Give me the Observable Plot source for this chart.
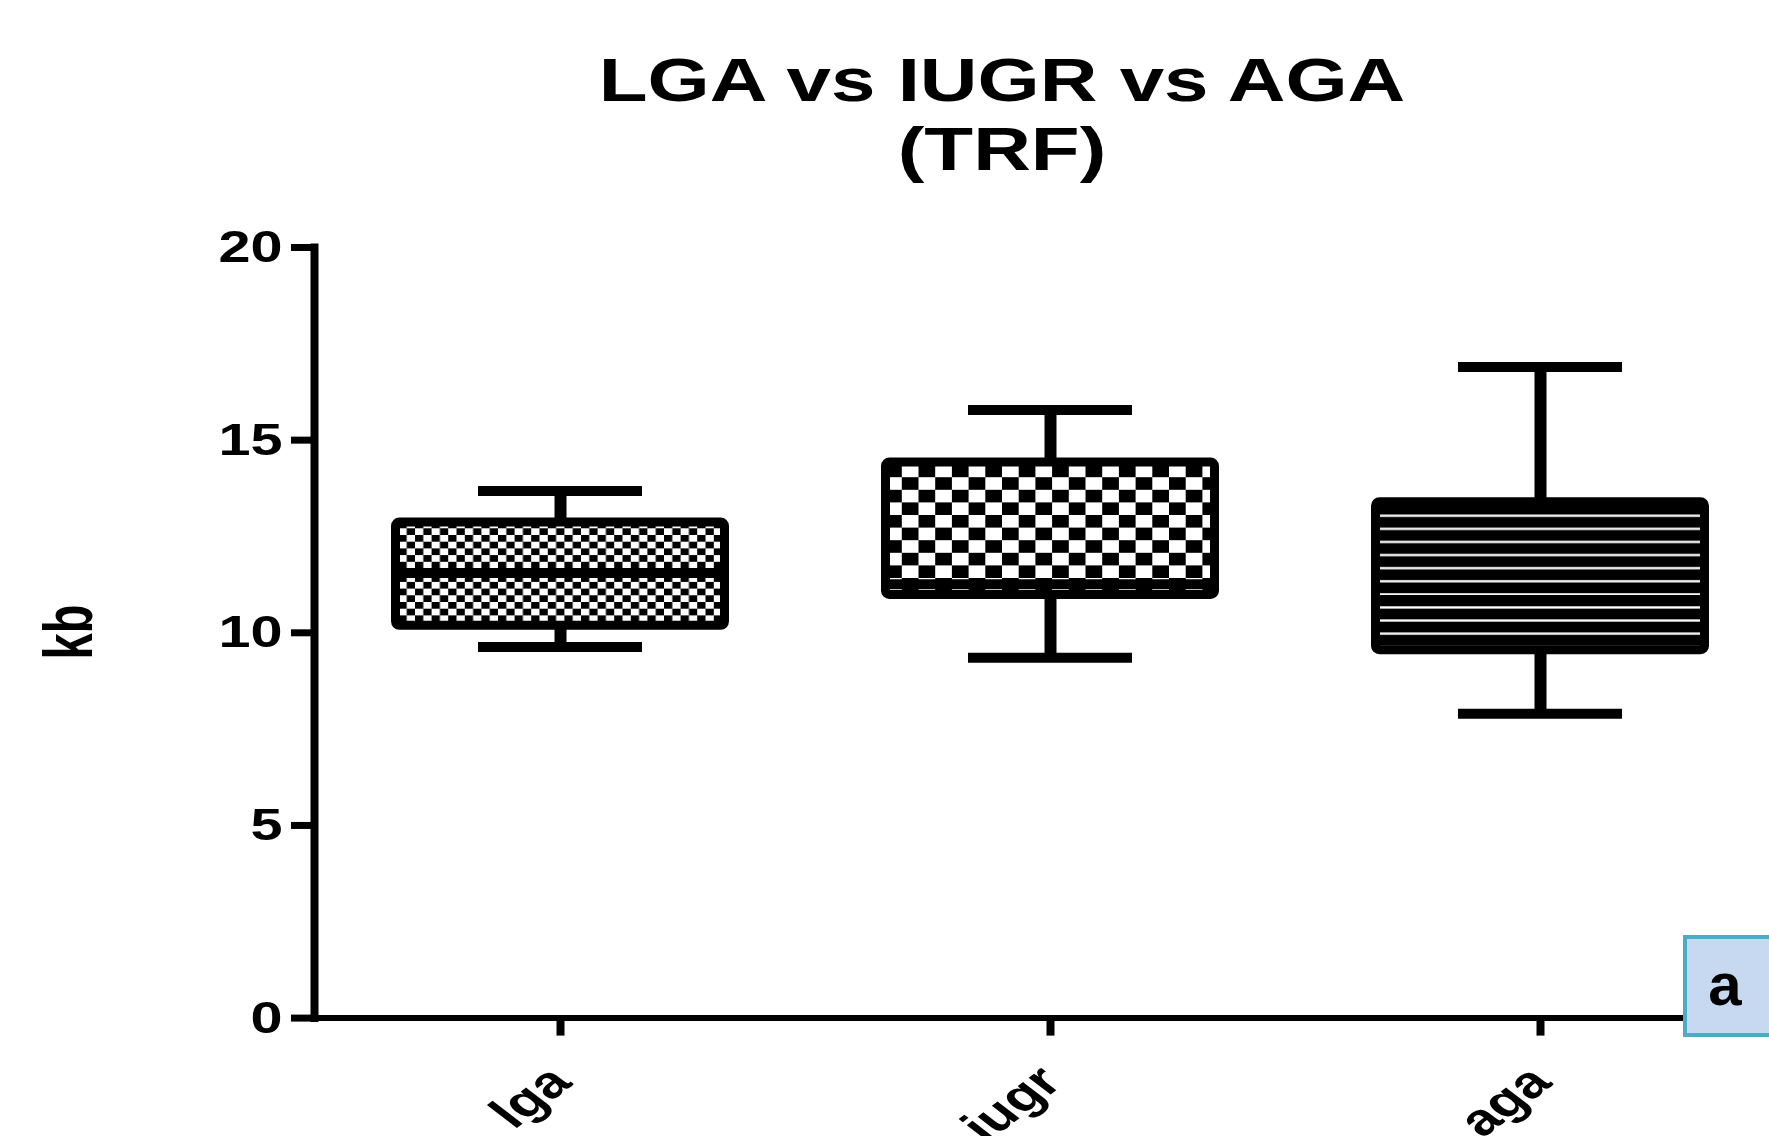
<!DOCTYPE html>
<html>
<head>
<meta charset="utf-8">
<script src="https://cdn.jsdelivr.net/npm/d3@7"></script>
<script src="https://cdn.jsdelivr.net/npm/@observablehq/plot@0.6"></script>
<style>
  html, body { margin: 0; padding: 0; background: #fff; overflow: hidden; width: 1769px; height: 1136px; }
  #title { position: absolute; top: 0; left: 1002px; transform: translateX(-50%) scaleX(1.31);
    font-family: "Liberation Sans", Arial, sans-serif; font-weight: bold; font-size: 61px; line-height: 69px;
    padding-top: 46px; text-align: center; white-space: nowrap; color: #000; }
  #chart { position: absolute; top: 200px; left: 0; }
  #ylabel { position: absolute; left: 68px; top: 632px; transform: translate(-50%, -50%) rotate(-90deg) scale(1, 1.45);
    font-family: "Liberation Sans", Arial, sans-serif; font-weight: bold; font-size: 47px; line-height: 1; white-space: nowrap; color: #000; }
  #panel { position: absolute; left: 1683px; top: 935px; width: 110px; height: 94px; background: #C6D9F0; border: 4px solid #4BACC6; }
  #panel span { position: absolute; left: 0; width: 76px; top: 16px; text-align: center;
    font-family: "Liberation Sans", Arial, sans-serif; font-weight: bold; font-size: 60px; line-height: 60px; color: #000; }
</style>
</head>
<body>
<div id="title"></div>
<div id="chart"></div>
<div id="ylabel"></div>
<div id="panel"><span></span></div>
<script>
// ---- data ----
const categories = ["lga", "iugr", "aga"];
const mins    = [9.63, 9.35, 7.9];
const q1s     = [10.18, 10.98, 9.55];
const medians = [11.55, 11.26, 10.85];
const q3s     = [12.86, 14.42, 13.39];
const maxs    = [13.68, 15.78, 16.9];
const yTicks  = [0, 5, 10, 15, 20];
const titleLines = ["LGA vs IUGR vs AGA", "(TRF)"];
const yLabel = "kb";
const panelLetter = "a";

// ---- styles ----
const patternFor = {lga: "smallCheck", iugr: "bigCheck", aga: "hLines"};

document.getElementById("title").innerHTML = titleLines.join("<br>");
document.getElementById("ylabel").textContent = yLabel;
document.querySelector("#panel span").textContent = panelLetter;

const data = categories.map((cat, i) => ({
  cat, min: mins[i], q1: q1s[i], median: medians[i], q3: q3s[i], max: maxs[i],
  fill: `url(#${patternFor[cat]})`
}));

const svg = Plot.plot({
  width: 1790,
  height: 936,
  marginLeft: 314,
  marginRight: 3.4,
  marginTop: 47,
  marginBottom: 118.4,
  style: {fontFamily: '"Liberation Sans", Arial, sans-serif', background: "transparent", maxWidth: "none", color: "black"},
  x: {domain: categories, padding: 0, align: 0.5},
  y: {domain: [0, 20]},
  color: {type: "identity"},
  marks: [
    Plot.ruleX(data, {x: "cat", y1: "min", y2: "q1", stroke: "black", strokeWidth: 12}),
    Plot.ruleX(data, {x: "cat", y1: "q3", y2: "max", stroke: "black", strokeWidth: 12}),
    Plot.tickY(data, {x: "cat", y: "min", stroke: "black", strokeWidth: 10, insetLeft: 163, insetRight: 163}),
    Plot.tickY(data, {x: "cat", y: "max", stroke: "black", strokeWidth: 10, insetLeft: 163, insetRight: 163}),
    Plot.barY(data, {x: "cat", y1: "q1", y2: "q3", fill: "fill", stroke: "black", strokeWidth: 9, insetLeft: 80.5, insetRight: 80.5, rx: 4}),
    Plot.tickY(data, {x: "cat", y: "median", stroke: "black", strokeWidth: 10, insetLeft: 85, insetRight: 85}),
    Plot.frame({anchor: "left", stroke: "black", strokeWidth: 8}),
    Plot.frame({anchor: "bottom", stroke: "black", strokeWidth: 6}),
    Plot.axisY({ticks: yTicks, tickSize: 23, tickPadding: 9, strokeWidth: 7, fontSize: 45, fontWeight: "bold", label: null, tickFormat: d => String(d)}),
    Plot.axisX({tickSize: 18, strokeWidth: 8, tickRotate: -45, tickPadding: 38, fontSize: 45, fontWeight: "bold", label: null})
  ]
});

// patterns
const defs = d3.select(svg).insert("defs", ":first-child");
const p1 = defs.append("pattern").attr("id", "smallCheck").attr("patternUnits", "userSpaceOnUse").attr("width", 16.6).attr("height", 13.4);
p1.append("rect").attr("width", 16.6).attr("height", 13.4).attr("fill", "white");
p1.append("rect").attr("width", 8.3).attr("height", 6.7).attr("fill", "black");
p1.append("rect").attr("x", 8.3).attr("y", 6.7).attr("width", 8.3).attr("height", 6.7).attr("fill", "black");
const p2 = defs.append("pattern").attr("id", "bigCheck").attr("patternUnits", "userSpaceOnUse").attr("width", 33.4).attr("height", 25.2);
p2.append("rect").attr("width", 33.4).attr("height", 25.2).attr("fill", "white");
p2.append("rect").attr("width", 16.7).attr("height", 12.6).attr("fill", "black");
p2.append("rect").attr("x", 16.7).attr("y", 12.6).attr("width", 16.7).attr("height", 12.6).attr("fill", "black");
const p3 = defs.append("pattern").attr("id", "hLines").attr("patternUnits", "userSpaceOnUse").attr("width", 20).attr("height", 13.1);
p3.append("rect").attr("width", 20).attr("height", 13.1).attr("fill", "black");
p3.append("rect").attr("y", 0.2).attr("width", 20).attr("height", 2.3).attr("fill", "white");

// horizontal stretch of text (as in the reference)
function stretchAboutAnchor(el, sx, sy) {
  const t = el.getAttribute("transform") || "";
  const m = /translate\(\s*([-\d.e]+)[ ,]+([-\d.e]+)\s*\)/.exec(t);
  const ax = m ? +m[1] : +(el.getAttribute("x") || 0);
  const ay = m ? +m[2] : +(el.getAttribute("y") || 0);
  el.setAttribute("transform", `translate(${ax},${ay}) scale(${sx},${sy}) translate(${-ax},${-ay}) ${t}`);
}
d3.select(svg).selectAll('g[aria-label="y-axis tick label"] text').each(function() { stretchAboutAnchor(this, 1.28, 1); });
d3.select(svg).selectAll('g[aria-label="x-axis tick label"] text').each(function() { stretchAboutAnchor(this, 1.3, 1); });

document.getElementById("chart").appendChild(svg);
</script>
</body>
</html>
